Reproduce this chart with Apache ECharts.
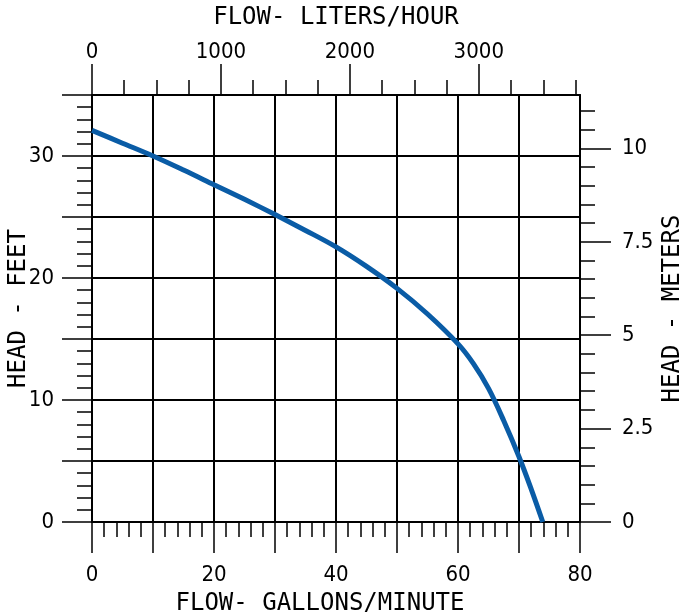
<!DOCTYPE html>
<html>
<head>
<meta charset="utf-8">
<script src="https://cdn.jsdelivr.net/npm/echarts@6/dist/echarts.min.js"></script>
<style>html,body{margin:0;padding:0;background:#fff}#c{width:682px;height:612px}</style>
</head>
<body>
<div id="c"></div>
<script>
// Pump curve: flow (US GPM) vs head (feet)
const flowGpm = [0, 5, 10, 15, 20, 25, 30, 35, 40, 45, 50, 55, 60, 62.5, 65, 67.5, 70, 72, 73.9];
const headFt  = [32.1, 31.05, 30.0, 28.85, 27.65, 26.45, 25.2, 23.9, 22.55, 20.95, 19.15, 17.05, 14.6, 13.0, 10.95, 8.3, 5.35, 2.7, 0];

// Tick label positions
const gpmLabels = [0, 20, 40, 60, 80];
const ftLabels = [0, 10, 20, 30];
const lphMajor = [0, 1000, 2000, 3000];
const lphMinor = [250, 500, 750, 1250, 1500, 1750, 2250, 2500, 2750, 3250, 3500, 3750];
const mMajor = [0, 2.5, 5, 7.5, 10];
const mMinor = [0.5, 1, 1.5, 2, 3, 3.5, 4, 4.5, 5.5, 6, 6.5, 7, 8, 8.5, 9, 9.5, 10.5, 11];

// Axis extents
const gpmMax = 80, ftMax = 35, lphMax = 3785, mMax = 11.43;

const NAME_FONT = "'DejaVu Sans Mono', monospace";
const NUM_FONT = "'Liberation Sans Narrow', 'DejaVu Sans Condensed', sans-serif";
const NAME_SIZE = 24, NUM_SIZE = 22;
const black = '#000';
const plain = v => String(v);

const chart = echarts.init(document.getElementById('c'), null, {renderer: 'canvas'});
const series = flowGpm.map((x, i) => [x, headFt[i]]);

const option = {
  backgroundColor: '#fff',
  animation: false,
  grid: {left: 92, right: 102, top: 95, bottom: 90, containLabel: false, outerBoundsMode: 'none'},
  xAxis: [
    {
      type: 'value', position: 'bottom', min: 0, max: gpmMax, interval: 10,
      name: 'FLOW- GALLONS/MINUTE', nameLocation: 'middle', nameGap: 70, nameMoveOverlap: false,
      nameTextStyle: {fontFamily: NAME_FONT, fontSize: NAME_SIZE, color: black, padding: [0, 32, 0, 0]},
      axisLine: {show: true, onZero: false, lineStyle: {color: black, width: 2}},
      axisTick: {show: true, length: 31, lineStyle: {color: black, width: 1.5}},
      minorTick: {show: true, splitNumber: 5, length: 15, lineStyle: {color: black, width: 1.5}},
      axisLabel: {customValues: gpmLabels, formatter: plain, margin: 42, fontFamily: NUM_FONT, fontSize: NUM_SIZE, color: black},
      splitLine: {show: true, lineStyle: {color: black, width: 2}},
      minorSplitLine: {show: false}
    },
    {
      type: 'value', position: 'top', min: 0, max: lphMax,
      name: 'FLOW- LITERS/HOUR', nameLocation: 'middle', nameGap: 65, nameMoveOverlap: false,
      nameTextStyle: {fontFamily: NAME_FONT, fontSize: NAME_SIZE, color: black},
      axisLine: {show: true, onZero: false, lineStyle: {color: black, width: 2}},
      axisTick: {show: true, customValues: lphMajor, length: 31, lineStyle: {color: black, width: 1.5}},
      axisLabel: {customValues: lphMajor, formatter: plain, margin: 32, fontFamily: NUM_FONT, fontSize: NUM_SIZE, color: black},
      splitLine: {show: false}
    },
    {
      type: 'value', position: 'top', min: 0, max: lphMax,
      axisLine: {show: false, onZero: false},
      axisTick: {show: true, customValues: lphMinor, length: 15, lineStyle: {color: black, width: 1.5}},
      axisLabel: {show: false},
      splitLine: {show: false}
    }
  ],
  yAxis: [
    {
      type: 'value', position: 'left', min: 0, max: ftMax, interval: 5,
      name: 'HEAD - FEET', nameLocation: 'middle', nameGap: 61, nameRotate: 90, nameMoveOverlap: false,
      nameTextStyle: {fontFamily: NAME_FONT, fontSize: NAME_SIZE, color: black},
      axisLine: {show: true, onZero: false, lineStyle: {color: black, width: 2}},
      axisTick: {show: true, length: 30, lineStyle: {color: black, width: 1.5}},
      minorTick: {show: true, splitNumber: 5, length: 15, lineStyle: {color: black, width: 1.5}},
      axisLabel: {customValues: ftLabels, formatter: plain, margin: 38, fontFamily: NUM_FONT, fontSize: NUM_SIZE, color: black},
      splitLine: {show: true, lineStyle: {color: black, width: 2}}
    },
    {
      type: 'value', position: 'right', min: 0, max: mMax,
      name: 'HEAD - METERS', nameLocation: 'middle', nameGap: 81, nameRotate: 90, nameMoveOverlap: false,
      nameTextStyle: {fontFamily: NAME_FONT, fontSize: NAME_SIZE, color: black},
      axisLine: {show: true, onZero: false, lineStyle: {color: black, width: 2}},
      axisTick: {show: true, customValues: mMajor, length: 31, lineStyle: {color: black, width: 1.5}},
      axisLabel: {customValues: mMajor, formatter: plain, margin: 42, fontFamily: NUM_FONT, fontSize: NUM_SIZE, color: black},
      splitLine: {show: false}
    },
    {
      type: 'value', position: 'right', min: 0, max: mMax,
      axisLine: {show: false, onZero: false},
      axisTick: {show: true, customValues: mMinor, length: 15, lineStyle: {color: black, width: 1.5}},
      axisLabel: {show: false},
      splitLine: {show: false}
    }
  ],
  series: [{
    type: 'line', xAxisIndex: 0, yAxisIndex: 0, data: series,
    smooth: 0.35, symbol: 'none',
    lineStyle: {color: '#0A5CA6', width: 5}
  }]
};
chart.setOption(option);
</script>
</body>
</html>
